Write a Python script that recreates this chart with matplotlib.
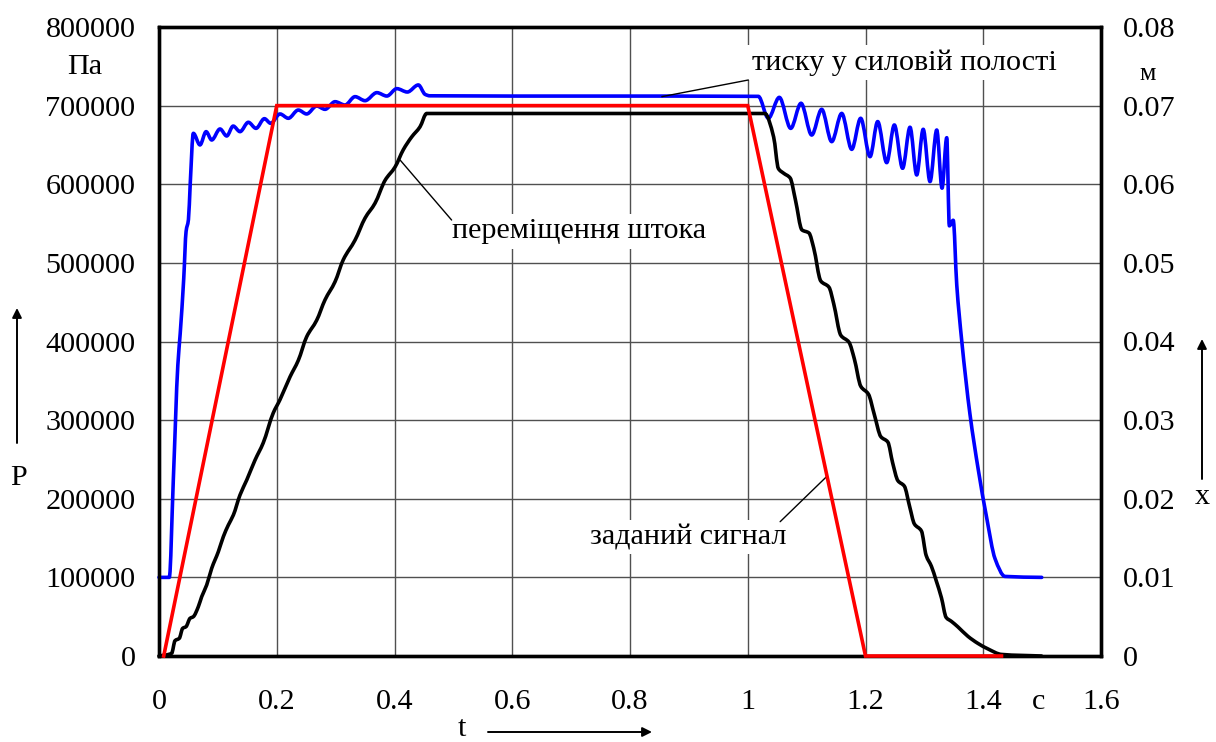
import matplotlib
matplotlib.use("Agg")
import matplotlib.pyplot as plt
import numpy as np
from matplotlib.path import Path
from matplotlib.patches import PathPatch, FancyArrowPatch
from matplotlib.ticker import FixedLocator, FixedFormatter

plt.rcParams['font.family'] = ['Liberation Serif', 'DejaVu Serif']

# ---- time axis ----
t_ticks = [0, 0.2, 0.4, 0.6, 0.8, 1.0, 1.2, 1.4, 1.6]
t_labels = ["0", "0.2", "0.4", "0.6", "0.8", "1", "1.2", "1.4", "1.6"]

# ---- pressure axis (Pa) ----
p_ticks = [0, 100000, 200000, 300000, 400000, 500000, 600000, 700000, 800000]
p_labels = [str(v) for v in p_ticks]

# ---- displacement axis (m) ----
x_ticks = [0, 0.01, 0.02, 0.03, 0.04, 0.05, 0.06, 0.07, 0.08]
x_labels = ["0", "0.01", "0.02", "0.03", "0.04", "0.05", "0.06", "0.07", "0.08"]

# pressure in the power chamber, Pa
t_pressure = [0, 0.0175, 0.0243, 0.032, 0.036, 0.042, 0.046, 0.050, 0.053, 0.0583,
              0.0696, 0.080, 0.0895, 0.1036, 0.115, 0.126, 0.1376, 0.1517, 0.1648,
              0.179, 0.1897, 0.2055, 0.2197, 0.2366, 0.2508, 0.2678, 0.282, 0.299,
              0.316, 0.333, 0.350, 0.370, 0.387, 0.404, 0.4218, 0.4405, 0.452, 0.46,
              1.018, 1.035, 1.0536, 1.073, 1.0905, 1.1086, 1.1256, 1.1426, 1.1596,
              1.1766, 1.1918, 1.2077, 1.2207, 1.236, 1.249, 1.263, 1.2756, 1.287,
              1.298, 1.3096, 1.321, 1.33, 1.338, 1.3424, 1.349, 1.355, 1.3634,
              1.3775, 1.3916, 1.4059, 1.42, 1.437, 1.4993]
pressure = [100000, 100000, 223800, 370000, 410000, 480000, 540000, 555000, 600000, 664800,
            650000, 666900, 656300, 670300, 661400, 674000, 666900, 678800, 671100,
            683400, 677500, 689400, 683900, 694400, 689400, 699500, 695300, 705000,
            700800, 711400, 706300, 716500, 712200, 721600, 717300, 726300, 714300, 712500,
            711800, 683900, 710500, 671100, 703000, 662600, 695300, 654200, 690100,
            644400, 683900, 635100, 679700, 627500, 675400, 620300, 672500, 611800,
            669900, 603400, 669000, 595000, 659200, 547100, 554200, 471900, 401300,
            307200, 236700, 175500, 123800, 101200, 100000]

# rod displacement, m
t_rod = [0, 0.0215, 0.0272, 0.0345, 0.0402, 0.0459, 0.0527, 0.0583, 0.0668, 0.0725,
         0.081, 0.0895, 0.1008, 0.1093, 0.1178, 0.1263, 0.1376, 0.149, 0.163, 0.177,
         0.194, 0.2055, 0.2225, 0.2366, 0.2508, 0.2678, 0.282, 0.299, 0.313, 0.333,
         0.350, 0.367, 0.384, 0.401, 0.415, 0.429, 0.4433, 0.4547, 1.029, 1.044,
         1.052, 1.061, 1.072, 1.081, 1.092, 1.104, 1.112, 1.124, 1.138, 1.146, 1.158,
         1.172, 1.181, 1.192, 1.205, 1.215, 1.226, 1.238, 1.246, 1.255, 1.266, 1.275,
         1.283, 1.295, 1.303, 1.312, 1.320, 1.329, 1.337, 1.346, 1.357, 1.374, 1.391,
         1.408, 1.431, 1.499]
rod = [0, 0.00034, 0.00195, 0.00225, 0.00352, 0.00373, 0.00479, 0.0050, 0.00627, 0.00754,
       0.00903, 0.01115, 0.01327, 0.01518, 0.01666, 0.01793, 0.02048, 0.02238, 0.0249, 0.0271,
       0.0309, 0.0326, 0.0355, 0.0376, 0.0406, 0.0427, 0.0453, 0.0476, 0.0504, 0.0529,
       0.0557, 0.0576, 0.0605, 0.0622, 0.0644, 0.0660, 0.0673, 0.0690, 0.0690, 0.0660,
       0.0620, 0.0614, 0.0608, 0.0580, 0.0542, 0.0538, 0.0519, 0.0477, 0.0469, 0.0448, 0.0408,
       0.0399, 0.0378, 0.0343, 0.0333, 0.0307, 0.0279, 0.0272, 0.0246, 0.0223, 0.0216, 0.0190,
       0.0168, 0.0159, 0.0128, 0.0114, 0.0096, 0.0074, 0.0049, 0.0044, 0.0037, 0.0025, 0.0016,
       0.0009, 0.0002, 0.0]

# reference (set-point) signal, m
t_signal = [0.008, 0.2, 1.0, 1.2, 1.431]
signal = [0, 0.07, 0.07, 0, 0]


def smooth_path(xs, ys):
    """Monotone cubic (Fritsch-Carlson) Bezier path through the given points."""
    x = np.asarray(xs, float)
    y = np.asarray(ys, float)
    h = np.diff(x)
    d = np.diff(y) / h
    m = np.zeros_like(y)
    m[0], m[-1] = d[0], d[-1]
    for i in range(1, len(y) - 1):
        if d[i - 1] * d[i] > 0:
            w1 = 2 * h[i] + h[i - 1]
            w2 = h[i] + 2 * h[i - 1]
            m[i] = (w1 + w2) / (w1 / d[i - 1] + w2 / d[i])
    verts = [(x[0], y[0])]
    codes = [Path.MOVETO]
    for i in range(len(h)):
        verts += [(x[i] + h[i] / 3, y[i] + m[i] * h[i] / 3),
                  (x[i + 1] - h[i] / 3, y[i + 1] - m[i + 1] * h[i] / 3),
                  (x[i + 1], y[i + 1])]
        codes += [Path.CURVE4] * 3
    return Path(verts, codes)


W, H = 1216, 742
fig = plt.figure(figsize=(W / 100, H / 100), dpi=100)
L, R, T, B = 159, 1101, 27, 656
ax = fig.add_axes([L / W, 1 - B / H, (R - L) / W, (B - T) / H])
ax2 = ax.twinx()

ax.set_xlim(0, 1.6)
ax.set_ylim(0, 800000)
ax2.set_ylim(0, 0.08)

ax.xaxis.set_major_locator(FixedLocator(t_ticks))
ax.xaxis.set_major_formatter(FixedFormatter(t_labels))
ax.yaxis.set_major_locator(FixedLocator(p_ticks))
ax.yaxis.set_major_formatter(FixedFormatter(p_labels))
ax2.yaxis.set_major_locator(FixedLocator(x_ticks))
ax2.yaxis.set_major_formatter(FixedFormatter(x_labels))

fs = 21.7
ax.tick_params(axis='x', length=0, pad=24, labelsize=fs)
ax.tick_params(axis='y', length=0, pad=17, labelsize=fs)
ax2.tick_params(axis='y', length=0, pad=16, labelsize=fs)

ax.grid(True, color='#505050', linewidth=1.0)
ax.set_axisbelow(True)
for a in (ax, ax2):
    for s in a.spines.values():
        s.set_linewidth(2.4)
        s.set_color('black')

lw = 2.6
curve_style = dict(fill=False, linewidth=lw, clip_on=False, joinstyle='round',
                   capstyle='round')
ax.add_patch(PathPatch(smooth_path(t_pressure, pressure), edgecolor='#0000ff',
                       zorder=3, **curve_style))
ax2.add_patch(PathPatch(smooth_path(t_rod, rod), edgecolor='black',
                        zorder=3, **curve_style))
ax2.plot(t_signal, signal, color='#ff0000', linewidth=lw, clip_on=False,
         solid_joinstyle='miter', zorder=4)

box = dict(facecolor='white', edgecolor='none', pad=3)
leader = dict(arrowstyle='-', color='black', linewidth=1.0, shrinkA=0, shrinkB=0)

ax.text(1.2655, 745300, "тиску у силовій полості", fontsize=fs, ha='center',
        va='baseline', bbox=box, zorder=2)
ax.annotate("", xy=(0.854, 711400), xytext=(1.001, 732600), arrowprops=leader)

ax.text(0.7134, 531200, "переміщення штока", fontsize=fs, ha='center',
        va='baseline', bbox=box, zorder=2)
ax.annotate("", xy=(0.4093, 631000), xytext=(0.497, 554500), arrowprops=leader)

ax.text(0.8985, 142400, "заданий сигнал", fontsize=fs, ha='center',
        va='baseline', bbox=box, zorder=2)
ax.annotate("", xy=(1.134, 228200), xytext=(1.055, 170800), arrowprops=leader)


def fxy(px, py):
    return px / W, 1 - py / H


# units and axis names
fig.text(*fxy(85, 67), "Па", fontsize=fs, ha='center', va='center')
fig.text(*fxy(1148, 74), "м", fontsize=fs - 3, ha='center', va='center')
fig.text(*fxy(1039, 702), "c", fontsize=fs, ha='center', va='center')
fig.text(*fxy(19, 478), "P", fontsize=fs, ha='center', va='center')
fig.text(*fxy(1202, 497), "x", fontsize=fs, ha='center', va='center')
fig.text(*fxy(462, 729), "t", fontsize=fs, ha='center', va='center')

arrow = dict(arrowstyle='-|>', color='black', linewidth=1.4,
             mutation_scale=14, shrinkA=0, shrinkB=0)
fig.add_artist(FancyArrowPatch(fxy(17, 443), fxy(17, 308),
               transform=fig.transFigure, **arrow))
fig.add_artist(FancyArrowPatch(fxy(1202, 479), fxy(1202, 339),
               transform=fig.transFigure, **arrow))
fig.add_artist(FancyArrowPatch(fxy(488, 732), fxy(652, 732),
               transform=fig.transFigure, **arrow))

fig.savefig("out.png", dpi=100)
